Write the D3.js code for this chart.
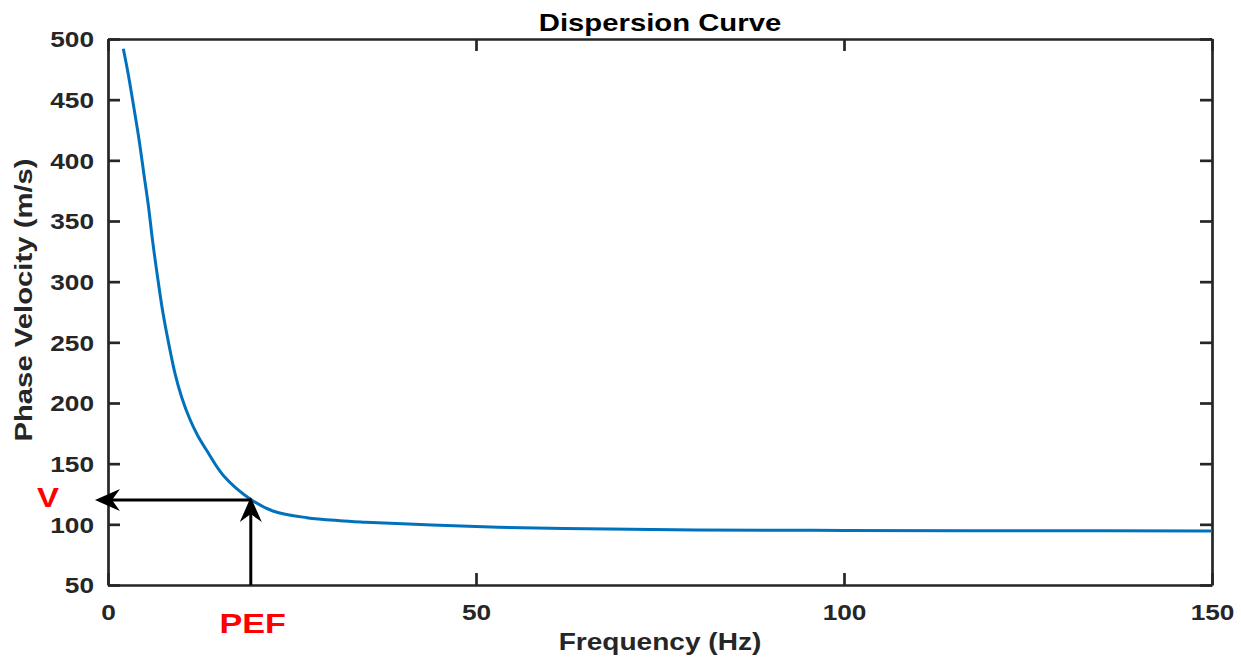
<!DOCTYPE html>
<html>
<head>
<meta charset="utf-8">
<script src="https://cdn.jsdelivr.net/npm/d3@7"></script>
<style>
  html, body { margin: 0; padding: 0; background: #fff; }
  svg text { font-family: "Liberation Sans", Arial, sans-serif; font-weight: bold; }
</style>
</head>
<body>
<div id="chart"></div>
<script>
// dispersion curve samples
const freq = [2.08, 2.72, 3.5, 4.22, 4.87, 5.5, 6.05, 6.66, 7.34, 8.15, 9.1, 10.0, 11.1, 12.2, 13.4, 15.7, 19.4, 22.5, 27, 31.5, 35, 44, 53, 62, 71, 80, 100, 125, 150];
const vel  = [492, 472, 444, 417, 389, 362, 334, 307, 279, 252, 224.5, 205, 187, 173, 161, 140, 120.5, 110.8, 105.5, 103, 101.8, 99.4, 97.6, 96.6, 95.9, 95.4, 95, 94.7, 94.5];

const xTicks = [0, 50, 100, 150];
const yTicks = [50, 100, 150, 200, 250, 300, 350, 400, 450, 500];

// picked point
const PEF = 19.4;
const V = 120;

const W = 1241, H = 662;
const margin = { top: 39, right: 29, bottom: 77, left: 108 };
const width = W - margin.left - margin.right;
const height = H - margin.top - margin.bottom;
const STRETCH = 1.22; // the source text is drawn wider than Arial

const svg = d3.select("#chart").append("svg")
  .attr("width", W)
  .attr("height", H);

const g = svg.append("g")
  .attr("transform", `translate(${margin.left},${margin.top})`);

const x = d3.scaleLinear().domain([0, 150]).range([0, width]);
const y = d3.scaleLinear().domain([50, 500]).range([height, 0]);

function widen(sel) {
  sel.attr("textLength", function () { return this.getComputedTextLength() * STRETCH; })
    .attr("lengthAdjust", "spacingAndGlyphs");
}

const axisColor = "#262626";

// axes: ticks inside, box on all sides
const gx = g.append("g")
  .attr("transform", `translate(0,${height})`)
  .call(d3.axisBottom(x).tickValues(xTicks).tickSizeInner(-12).tickSizeOuter(0).tickPadding(20));
const gxTop = g.append("g")
  .call(d3.axisTop(x).tickValues(xTicks).tickSizeInner(-12).tickSizeOuter(0).tickFormat(""));
const gy = g.append("g")
  .call(d3.axisLeft(y).tickValues(yTicks).tickSizeInner(-12).tickSizeOuter(0).tickPadding(14));
const gyRight = g.append("g")
  .attr("transform", `translate(${width},0)`)
  .call(d3.axisRight(y).tickValues(yTicks).tickSizeInner(-12).tickSizeOuter(0).tickFormat(""));

[gx, gxTop, gy, gyRight].forEach(a => {
  a.select(".domain").attr("stroke", axisColor).attr("stroke-width", 2.7);
  a.selectAll(".tick line").attr("stroke", axisColor).attr("stroke-width", 2.7);
});

gx.selectAll(".tick text")
  .attr("font-size", "21.5px")
  .attr("fill", axisColor)
  .call(widen);
gy.selectAll(".tick text")
  .attr("font-size", "21.5px")
  .attr("fill", axisColor)
  .attr("dy", "0.36em")
  .call(widen);

// curve
const line = d3.line()
  .x((d, i) => x(freq[i]))
  .y(d => y(d))
  .curve(d3.curveCatmullRom.alpha(0.5));

g.append("path")
  .datum(vel)
  .attr("fill", "none")
  .attr("stroke", "#0072BD")
  .attr("stroke-width", 3)
  .attr("d", line);

// arrows to the axes
function arrowHead(tx, ty, dir) {
  // dir: unit vector pointing toward the tip
  const len = 25, half = 11, back = 8;
  const [ux, uy] = dir;
  const px = -uy, py = ux;
  const bx = tx - ux * len, by = ty - uy * len;
  const nx = tx - ux * (len - back), ny = ty - uy * (len - back);
  return `M${tx},${ty}L${bx + px * half},${by + py * half}L${nx},${ny}L${bx - px * half},${by - py * half}Z`;
}

const ax = x(PEF), ay = y(V);
g.append("line")
  .attr("x1", ax).attr("y1", ay)
  .attr("x2", x(0) - 4).attr("y2", ay)
  .attr("stroke", "#000").attr("stroke-width", 3);
g.append("path")
  .attr("d", arrowHead(x(0) - 13, ay, [-1, 0]))
  .attr("fill", "#000");

g.append("line")
  .attr("x1", ax).attr("y1", y(50))
  .attr("x2", ax).attr("y2", ay + 6)
  .attr("stroke", "#000").attr("stroke-width", 3);
g.append("path")
  .attr("d", arrowHead(ax, ay - 3, [0, -1]))
  .attr("fill", "#000");

// labels
svg.append("text")
  .attr("x", margin.left + width / 2)
  .attr("y", 31)
  .attr("text-anchor", "middle")
  .attr("font-size", "24px")
  .attr("fill", "#000")
  .text("Dispersion Curve")
  .call(widen);

svg.append("text")
  .attr("x", margin.left + width / 2)
  .attr("y", 650)
  .attr("text-anchor", "middle")
  .attr("font-size", "23px")
  .attr("fill", axisColor)
  .text("Frequency (Hz)")
  .call(widen);

svg.append("text")
  .attr("transform", `translate(32,${300}) rotate(-90)`)
  .attr("text-anchor", "middle")
  .attr("font-size", "24px")
  .attr("fill", axisColor)
  .text("Phase Velocity (m/s)")
  .call(widen);

svg.append("text")
  .attr("x", 48)
  .attr("y", margin.top + ay + 7)
  .attr("text-anchor", "middle")
  .attr("font-size", "27px")
  .attr("fill", "#ff0000")
  .text("V")
  .call(widen);

svg.append("text")
  .attr("x", margin.left + ax + 2)
  .attr("y", 633)
  .attr("text-anchor", "middle")
  .attr("font-size", "28px")
  .attr("fill", "#ff0000")
  .text("PEF")
  .call(widen);
</script>
</body>
</html>
